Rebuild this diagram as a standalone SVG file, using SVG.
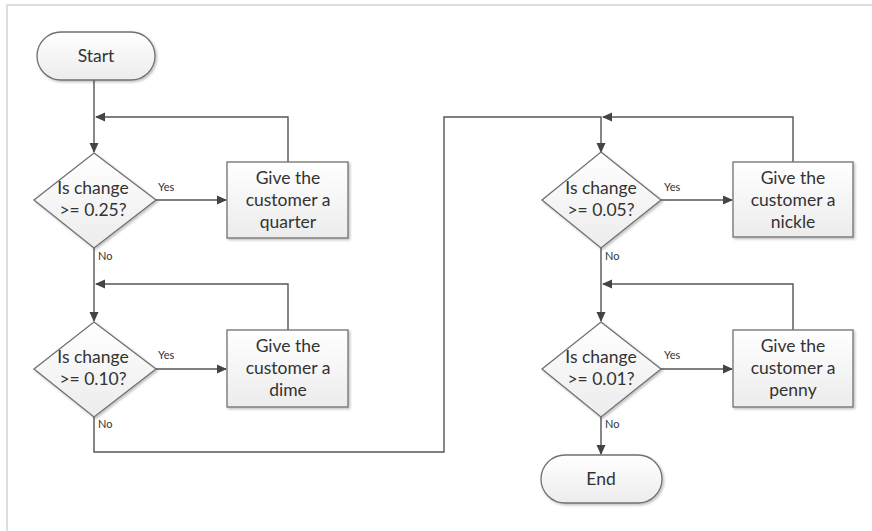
<svg xmlns="http://www.w3.org/2000/svg" width="872" height="531" viewBox="0 0 872 531">
<style>
.shape{fill:url(#g);stroke:#707070;stroke-width:1.3}
.t{font-family:Lato,"Open Sans",sans-serif;font-size:17.5px;fill:#333;text-anchor:middle}
.s{font-family:Lato,"Open Sans",sans-serif;font-size:11px;fill:#333}
.c{fill:none;stroke:#555;stroke-width:1.4}
.frame{fill:none;stroke:#d4d4d4;stroke-width:1.5}
</style>
<defs>
<linearGradient id="g" x1="0" y1="0" x2="0" y2="1">
<stop offset="0" stop-color="#ffffff"/>
<stop offset="1" stop-color="#ececec"/>
</linearGradient>
<filter id="sh" x="-10%" y="-10%" width="130%" height="130%">
<feDropShadow dx="1.5" dy="1.5" stdDeviation="1" flood-color="#000" flood-opacity="0.25"/>
</filter>
<marker id="a" markerWidth="10" markerHeight="10" refX="9" refY="5" orient="auto" markerUnits="userSpaceOnUse">
<path d="M0,0.5 L10,5 L0,9.5 Z" fill="#444"/>
</marker>
</defs>
<rect width="872" height="531" fill="#fff"/>
<path class="frame" d="M7,531 V5 H872"/>
<g id="connectors">
<path class="c" d="M94,80 V152" marker-end="url(#a)"/>
<path class="c" d="M288,162 V117 H96" marker-end="url(#a)"/>
<path class="c" d="M156,200 H226" marker-end="url(#a)"/>
<path class="c" d="M94,248 V321" marker-end="url(#a)"/>
<path class="c" d="M288,330 V284 H96" marker-end="url(#a)"/>
<path class="c" d="M156,369 H226" marker-end="url(#a)"/>
<path class="c" d="M94,417 V452 H444 V117 H601 V152" marker-end="url(#a)"/>
<path class="c" d="M793,162 V117 H603" marker-end="url(#a)"/>
<path class="c" d="M661,200 H732" marker-end="url(#a)"/>
<path class="c" d="M601,248 V321" marker-end="url(#a)"/>
<path class="c" d="M793,330 V284 H603" marker-end="url(#a)"/>
<path class="c" d="M661,369 H732" marker-end="url(#a)"/>
<path class="c" d="M601,417 V454" marker-end="url(#a)"/>
<text class="s" x="158" y="191">Yes</text>
<text class="s" x="158" y="359">Yes</text>
<text class="s" x="664" y="191">Yes</text>
<text class="s" x="664" y="359">Yes</text>
<text class="s" x="98" y="260">No</text>
<text class="s" x="98" y="428">No</text>
<text class="s" x="605" y="260">No</text>
<text class="s" x="605" y="428">No</text>
</g>
<g id="start">
<rect class="shape" filter="url(#sh)" x="37" y="32" width="118" height="48" rx="24"/>
<text class="t" x="96" y="62">Start</text>
</g>
<g id="d1">
<polygon class="shape" filter="url(#sh)" points="94,153 156,200 94,248 34,200"/>
<text class="t" x="93" y="194">Is change</text>
<text class="t" x="93" y="216">&gt;= 0.25?</text>
</g>
<g id="b1">
<rect class="shape" filter="url(#sh)" x="227" y="162" width="121" height="76"/>
<text class="t" x="288" y="184">Give the</text>
<text class="t" x="288" y="206">customer a</text>
<text class="t" x="288" y="228">quarter</text>
</g>
<g id="d2">
<polygon class="shape" filter="url(#sh)" points="94,322 156,369 94,417 34,369"/>
<text class="t" x="93" y="363">Is change</text>
<text class="t" x="93" y="385">&gt;= 0.10?</text>
</g>
<g id="b2">
<rect class="shape" filter="url(#sh)" x="227" y="330" width="121" height="77"/>
<text class="t" x="288" y="352">Give the</text>
<text class="t" x="288" y="374">customer a</text>
<text class="t" x="288" y="396">dime</text>
</g>
<g id="d3">
<polygon class="shape" filter="url(#sh)" points="601,152 661,200 601,248 542,200"/>
<text class="t" x="601" y="194">Is change</text>
<text class="t" x="601" y="216">&gt;= 0.05?</text>
</g>
<g id="b3">
<rect class="shape" filter="url(#sh)" x="733" y="162" width="120" height="75"/>
<text class="t" x="793" y="184">Give the</text>
<text class="t" x="793" y="206">customer a</text>
<text class="t" x="793" y="228">nickle</text>
</g>
<g id="d4">
<polygon class="shape" filter="url(#sh)" points="601,322 661,369 601,417 542,369"/>
<text class="t" x="601" y="363">Is change</text>
<text class="t" x="601" y="385">&gt;= 0.01?</text>
</g>
<g id="b4">
<rect class="shape" filter="url(#sh)" x="733" y="330" width="120" height="77"/>
<text class="t" x="793" y="352">Give the</text>
<text class="t" x="793" y="374">customer a</text>
<text class="t" x="793" y="396">penny</text>
</g>
<g id="end">
<rect class="shape" filter="url(#sh)" x="541" y="455" width="121" height="48" rx="24"/>
<text class="t" x="601" y="485">End</text>
</g>
</svg>
